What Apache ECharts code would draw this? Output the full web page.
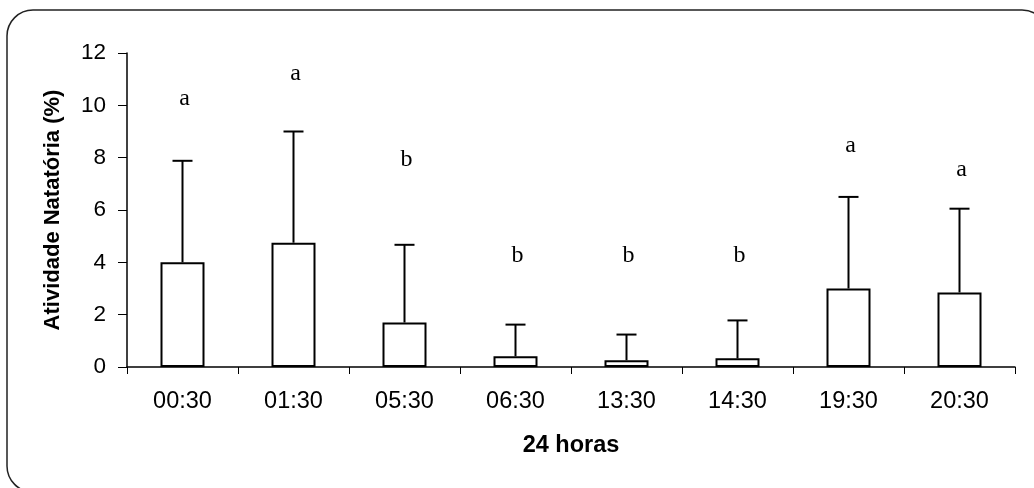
<!DOCTYPE html>
<html>
<head>
<meta charset="utf-8">
<script src="https://cdn.jsdelivr.net/npm/echarts@6/dist/echarts.min.js"></script>
<style>
html,body{margin:0;padding:0;background:#fff;}
#chart{width:1034px;height:488px;}
</style>
</head>
<body>
<div id="chart"></div>
<script>
const categories = ['00:30','01:30','05:30','06:30','13:30','14:30','19:30','20:30'];
const means = [4.0, 4.75, 1.7, 0.41, 0.26, 0.33, 3.0, 2.85];
const upper = [7.88, 9.0, 4.67, 1.62, 1.24, 1.78, 6.5, 6.05];
const letters = ['a','a','b','b','b','b','a','a'];
const letterPos = [10.26, 11.21, 7.92, 4.25, 4.25, 4.25, 8.47, 7.53];
const yTicks = [0, 2, 4, 6, 8, 10, 12];

const sans = 'Liberation Sans, Arial, sans-serif';
const chart = echarts.init(document.getElementById('chart'));
chart.setOption({
  animation: false,
  backgroundColor: '#fff',
  graphic: [{
    type: 'rect',
    shape: {x: 7, y: 10, width: 1041, height: 482, r: 26},
    style: {fill: 'none', stroke: '#222', lineWidth: 1.5},
    silent: true,
    z: -1
  }],
  grid: {left: 127, right: 19, top: 53, bottom: 121, containLabel: false},
  xAxis: {
    type: 'category',
    data: categories,
    name: '24 horas',
    nameLocation: 'middle',
    nameGap: 67,
    nameTextStyle: {fontFamily: sans, fontWeight: 'bold', fontSize: 23.5, color: '#000'},
    axisLine: {lineStyle: {color: '#000', width: 1.5}},
    axisTick: {show: true, length: 7, lineStyle: {color: '#000', width: 1}},
    axisLabel: {fontFamily: sans, fontSize: 23.5, color: '#000', margin: 23},
    splitLine: {show: false}
  },
  yAxis: {
    type: 'value',
    min: yTicks[0],
    max: yTicks[yTicks.length - 1],
    interval: 2,
    name: 'Atividade Natatória (%)',
    nameLocation: 'middle',
    nameRotate: 90,
    nameGap: 63,
    nameTextStyle: {fontFamily: sans, fontWeight: 'bold', fontSize: 22, color: '#000'},
    axisLine: {show: true, lineStyle: {color: '#000', width: 1.5}},
    axisTick: {show: true, length: 9, lineStyle: {color: '#000', width: 1}},
    axisLabel: {fontFamily: sans, fontSize: 22.5, color: '#000', margin: 21},
    splitLine: {show: false}
  },
  series: [
    {
      type: 'bar',
      data: means,
      barWidth: 44,
      itemStyle: {color: '#fff', borderColor: '#000', borderWidth: 2},
      z: 2
    },
    {
      type: 'custom',
      data: categories.map((c, i) => [i, means[i], upper[i]]),
      renderItem: function (params, api) {
        const x = api.value(0);
        const lo = api.coord([x, api.value(1)]);
        const hi = api.coord([x, api.value(2)]);
        const half = 10;
        return {
          type: 'group',
          children: [
            {type: 'line', shape: {x1: lo[0], y1: lo[1], x2: hi[0], y2: hi[1]}, style: {stroke: '#000', lineWidth: 2}},
            {type: 'line', shape: {x1: hi[0] - half, y1: hi[1], x2: hi[0] + half, y2: hi[1]}, style: {stroke: '#000', lineWidth: 2}}
          ]
        };
      },
      z: 3
    },
    {
      type: 'custom',
      data: categories.map((c, i) => [i, letterPos[i]]),
      renderItem: function (params, api) {
        const p = api.coord([api.value(0), api.value(1)]);
        return {
          type: 'text',
          style: {
            text: letters[params.dataIndex],
            x: p[0] + 2, y: p[1],
            align: 'center', verticalAlign: 'middle',
            font: '24px "Liberation Serif", "Times New Roman", serif',
            fill: '#000'
          }
        };
      },
      z: 4
    }
  ]
});
</script>
</body>
</html>
